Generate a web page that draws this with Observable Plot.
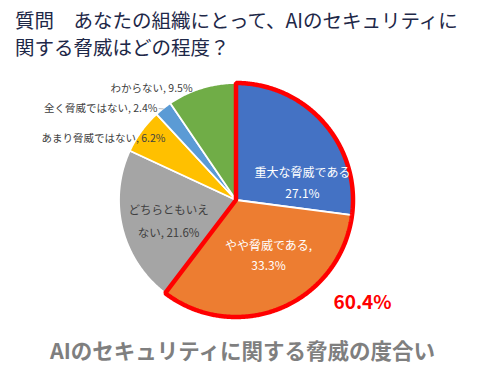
<!DOCTYPE html>
<html>
<head>
<meta charset="utf-8">
<script src="https://cdn.jsdelivr.net/npm/d3@7"></script>
<script src="https://cdn.jsdelivr.net/npm/@observablehq/plot@0.6"></script>
<style>
  html, body { margin: 0; padding: 0; background: #fff; }
  body { width: 485px; height: 370px; overflow: hidden; font-family: "Noto Sans CJK JP", "Noto Sans", sans-serif; }
  #title { height: 64px; box-sizing: border-box; padding: 6px 0 0 15px; font-size: 19.5px; line-height: 27px; color: #1e2848; white-space: nowrap; }
  #chart svg { display: block; }
  #foot { text-align: center; font-size: 21.5px; font-weight: bold; color: #7f7f7f; line-height: 28px; }
</style>
</head>
<body>
<div id="title">質問　あなたの組織にとって、AIのセキュリティに<br>関する脅威はどの程度？</div>
<div id="chart"></div>
<div id="foot">AIのセキュリティに関する脅威の度合い</div>
<script>
// ---- data ----
const categories = ["重大な脅威である", "やや脅威である", "どちらともいえない", "あまり脅威ではない", "全く脅威ではない", "わからない"];
const values = [27.1, 33.3, 21.6, 6.2, 2.4, 9.5];
const labels = ["重大な脅威である\n27.1%", "やや脅威である,\n33.3%", "どちらともいえ\nない, 21.6%", "あまり脅威ではない, 6.2%", "全く脅威ではない, 2.4%", "わからない, 9.5%"];
const highlighted = ["重大な脅威である", "やや脅威である"];
const highlightLabel = "60.4%";

// ---- style / layout ----
const colors = ["#4472C4", "#ED7D31", "#A5A5A5", "#FFC000", "#5B9BD5", "#70AD47"];
// label placement: [angle from 12 o'clock (deg), radius as fraction of pie radius, anchor, color, size, lineHeight]
const labelLayout = [
  [73.1, 0.589, "middle", "#ffffff", 12, 1.75],
  [148.8, 0.529, "middle", "#ffffff", 12, 1.7],
  [255.2, 0.601, "middle", "#404040", 11.5, 2.0],
  [311.1, 0.806, "end", "#404040", 10.5, 1],
  [319.3, 1.036, "end", "#404040", 10.5, 1],
  [338.6, 1.028, "end", "#404040", 10.5, 1]
];
const highlightLayout = [129.0, 1.386];

const W = 485, H = 272, cx = 236, cy = 136, R = 117;
const total = d3.sum(values);

// slice outlines (from the values)
const pts = [];
let acc = 0;
const slices = values.map((v, i) => {
  const s = acc / total, e = (acc + v) / total;
  acc += v;
  return {cat: categories[i], s, e};
});
function arcPoints(s, e, key) {
  const n = Math.max(2, Math.ceil((e - s) * 720) + 1);
  const out = [];
  for (let k = 0; k < n; k++) {
    const t = s + (e - s) * k / (n - 1);
    const a = 2 * Math.PI * t;
    out.push({key, x: Math.sin(a), y: Math.cos(a)});
  }
  return out;
}
slices.forEach(sl => pts.push(...arcPoints(sl.s, sl.e, sl.cat)));

const hiSlices = slices.filter(s => highlighted.includes(s.cat));
const hiPts = arcPoints(d3.min(hiSlices, d => d.s), d3.max(hiSlices, d => d.e), "hi");

const rad = d => d * Math.PI / 180;
const labelData = labels.map((t, i) => {
  const [ang, r, anchor, color, size, lh] = labelLayout[i];
  return {t, x: r * Math.sin(rad(ang)), y: r * Math.cos(rad(ang)), anchor, color, size, lh};
});

// leader for the small slice
const small = slices[4];
const mid = (small.s + small.e) / 2 * 2 * Math.PI;
const lab4 = labelData[4];
const leader = [{x1: lab4.x + 0.01, y1: lab4.y, x2: Math.sin(mid), y2: Math.cos(mid)}];

const marks = [
  Plot.area(pts, {x1: "x", y1: "y", x2: 0, y2: 0, z: "key", fill: "key", stroke: "white", strokeWidth: 1.8, strokeLinejoin: "round", curve: "linear"}),
  Plot.area(hiPts, {x1: "x", y1: "y", x2: 0, y2: 0, fill: "none", stroke: "#FF0000", strokeWidth: 4.5, strokeLinejoin: "miter", curve: "linear"}),
  Plot.link(leader, {x1: "x1", y1: "y1", x2: "x2", y2: "y2", stroke: "#a6a6a6", strokeWidth: 0.8})
];
labelData.forEach(d => {
  marks.push(Plot.text([d], {x: "x", y: "y", text: "t", textAnchor: d.anchor, fill: d.color, fontSize: d.size, lineHeight: d.lh, fontFamily: "Noto Sans CJK JP"}));
});
marks.push(Plot.text([highlightLabel], {
  x: () => highlightLayout[1] * Math.sin(rad(highlightLayout[0])),
  y: () => highlightLayout[1] * Math.cos(rad(highlightLayout[0])),
  text: d => d, fill: "#FF0000", fontSize: 19, fontWeight: "bold", fontFamily: "Noto Sans CJK JP"
}));

const chart = Plot.plot({
  width: W, height: H, margin: 0,
  style: {background: "white", overflow: "visible"},
  x: {domain: [-1, 1], range: [cx - R, cx + R], axis: null},
  y: {domain: [-1, 1], range: [cy + R, cy - R], axis: null},
  color: {domain: categories, range: colors},
  marks
});
document.getElementById("chart").appendChild(chart);
</script>
</body>
</html>
